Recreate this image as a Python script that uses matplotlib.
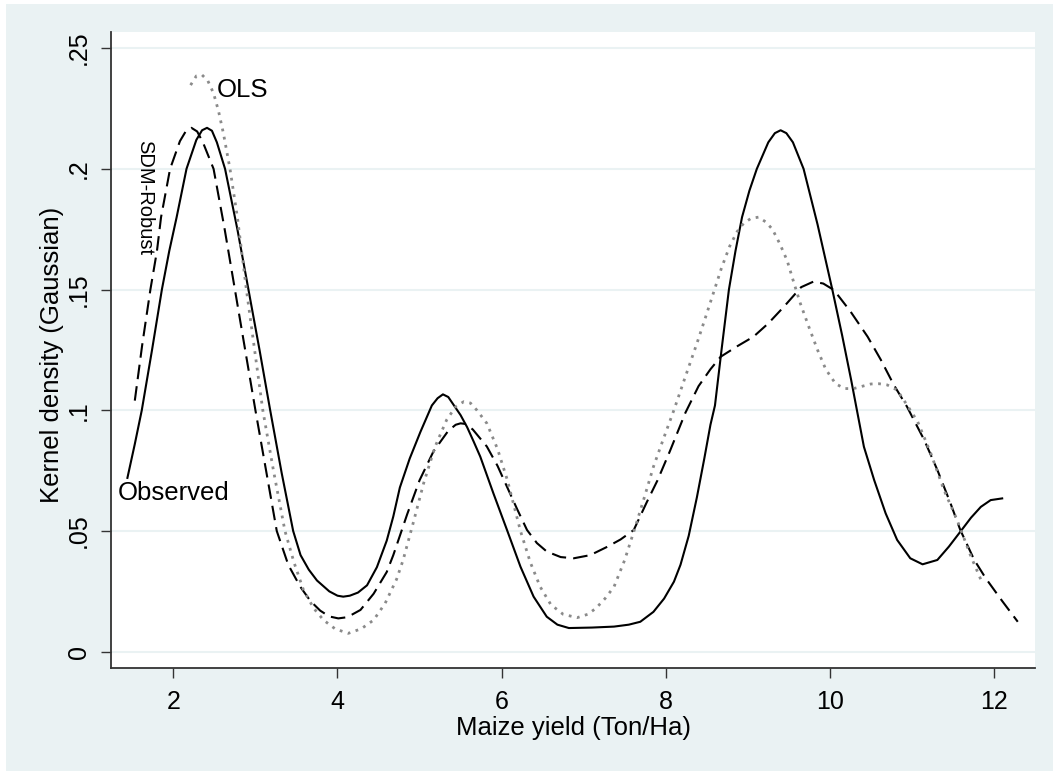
import matplotlib
matplotlib.use("Agg")
import matplotlib.pyplot as plt
from matplotlib.patches import Rectangle

# ---------------- data ----------------
obs_x = [1.44, 1.53, 1.615, 1.74, 1.86, 1.95, 2.04, 2.16, 2.28, 2.35, 2.41, 2.47, 2.53, 2.63,
         2.78, 2.915, 3.05, 3.18, 3.32, 3.46, 3.55, 3.65, 3.75, 3.90, 4.00, 4.07, 4.15, 4.25,
         4.36, 4.48, 4.60, 4.68, 4.76, 4.88, 5.01, 5.15, 5.22, 5.285, 5.35, 5.42, 5.50, 5.58,
         5.66, 5.74, 5.90, 6.066, 6.23, 6.39, 6.55, 6.68, 6.82, 7.10, 7.37, 7.55, 7.69, 7.85,
         7.98, 8.10, 8.18, 8.28, 8.38, 8.47, 8.545, 8.60, 8.68, 8.77, 8.85, 8.93, 9.02, 9.11,
         9.25, 9.33, 9.40, 9.47, 9.55, 9.68, 9.85, 10.03, 10.15, 10.26, 10.33, 10.415, 10.54,
         10.68, 10.82, 10.98, 11.13, 11.31, 11.45, 11.59, 11.72, 11.84, 11.96, 12.10]
obs_y = [0.072, 0.086, 0.100, 0.125, 0.150, 0.166, 0.180, 0.200, 0.212, 0.2160, 0.217, 0.2158, 0.211, 0.200,
         0.175, 0.150, 0.125, 0.100, 0.074, 0.050, 0.040, 0.034, 0.0295, 0.025, 0.0232, 0.0228, 0.0232, 0.0245,
         0.0275, 0.035, 0.046, 0.056, 0.068, 0.080, 0.091, 0.102, 0.105, 0.1066, 0.1055, 0.102, 0.098, 0.093,
         0.087, 0.0808, 0.0656, 0.0504, 0.0352, 0.0228, 0.0145, 0.0112, 0.0098, 0.0100, 0.0104, 0.0112, 0.0124, 0.0165,
         0.022, 0.029, 0.036, 0.048, 0.064, 0.080, 0.094, 0.102, 0.125, 0.150, 0.166, 0.180, 0.191, 0.200,
         0.211, 0.2148, 0.216, 0.2148, 0.211, 0.200, 0.177, 0.150, 0.131, 0.1125, 0.100, 0.0849, 0.0711,
         0.0573, 0.0463, 0.0387, 0.0362, 0.038, 0.0435, 0.0497, 0.0555, 0.060, 0.0628, 0.0635]

sdm_x = [1.53, 1.62, 1.72, 1.80, 1.85, 1.96, 2.08, 2.15, 2.22, 2.29, 2.36, 2.49, 2.62, 2.75,
         2.875, 3.00, 3.13, 3.26, 3.40, 3.545, 3.67, 3.79, 3.90, 4.01, 4.12, 4.28, 4.44, 4.60,
         4.68, 4.76, 4.85, 5.00, 5.17, 5.35, 5.44, 5.50, 5.57, 5.65, 5.82, 5.95, 6.07, 6.19,
         6.31, 6.43, 6.55, 6.72, 6.88, 7.08, 7.29, 7.45, 7.61, 7.77, 7.90, 8.05, 8.24, 8.40,
         8.545, 8.67, 8.87, 9.07, 9.25, 9.44, 9.65, 9.80, 9.92, 10.05, 10.25, 10.46, 10.62,
         10.78, 10.94, 11.15, 11.31, 11.47, 11.59, 11.76, 11.90, 12.10, 12.29]
sdm_y = [0.104, 0.127, 0.150, 0.166, 0.180, 0.200, 0.2115, 0.2155, 0.217, 0.2155, 0.211, 0.200, 0.176, 0.150,
         0.125, 0.100, 0.075, 0.050, 0.036, 0.027, 0.021, 0.0170, 0.0146, 0.0138, 0.0143, 0.0173, 0.024, 0.033,
         0.040, 0.048, 0.057, 0.071, 0.083, 0.0915, 0.0940, 0.0946, 0.0943, 0.092, 0.085, 0.077, 0.068, 0.059,
         0.0504, 0.045, 0.0415, 0.0392, 0.0387, 0.040, 0.0435, 0.0465, 0.0504, 0.062, 0.071, 0.083, 0.099, 0.110,
         0.117, 0.1222, 0.1265, 0.1305, 0.136, 0.1429, 0.151, 0.1533, 0.1525, 0.1498, 0.141, 0.1305, 0.121,
         0.1105, 0.1015, 0.0877, 0.0753, 0.0615, 0.0504, 0.038, 0.0304, 0.021, 0.0124]

ols_x = [2.21, 2.28, 2.35, 2.42, 2.49, 2.55, 2.61, 2.69, 2.78, 2.89, 2.99, 3.09, 3.22, 3.36,
         3.47, 3.585, 3.71, 3.83, 3.97, 4.13, 4.29, 4.44, 4.58, 4.72, 4.80, 4.92, 5.05, 5.19,
         5.33, 5.44, 5.54, 5.62, 5.70, 5.82, 5.95, 6.07, 6.23, 6.35, 6.47, 6.60, 6.75, 6.92,
         7.05, 7.15, 7.26, 7.37, 7.50, 7.63, 7.74, 7.85, 7.97, 8.10, 8.24, 8.38, 8.48, 8.585,
         8.68, 8.78, 8.87, 8.95, 9.04, 9.13, 9.22, 9.30, 9.39, 9.48, 9.56, 9.64, 9.75, 9.85,
         9.95, 10.07, 10.18, 10.29, 10.40, 10.50, 10.60, 10.70, 10.82, 10.94, 11.07, 11.23,
         11.39, 11.55, 11.72, 11.86]
ols_y = [0.2347, 0.2385, 0.2389, 0.2365, 0.2313, 0.224, 0.2147, 0.200, 0.180, 0.150, 0.125, 0.100, 0.075, 0.050,
         0.037, 0.0256, 0.018, 0.0131, 0.0095, 0.0076, 0.0095, 0.0131, 0.020, 0.030, 0.038, 0.053, 0.0698, 0.085,
         0.096, 0.1015, 0.1036, 0.1030, 0.100, 0.0946, 0.084, 0.0711, 0.050, 0.037, 0.0269, 0.0195, 0.0155, 0.0141,
         0.0155, 0.018, 0.022, 0.0269, 0.038, 0.0518, 0.064, 0.0766, 0.088, 0.1001, 0.114, 0.1277, 0.138, 0.149,
         0.159, 0.168, 0.174, 0.1775, 0.1795, 0.180, 0.178, 0.175, 0.169, 0.162, 0.153, 0.1443, 0.134, 0.125,
         0.117, 0.111, 0.109, 0.109, 0.110, 0.1109, 0.111, 0.1105, 0.1084, 0.1022, 0.0953, 0.0822,
         0.067, 0.0546, 0.0394, 0.0283]

x_ticks = [2, 4, 6, 8, 10, 12]
x_tick_labels = ["2", "4", "6", "8", "10", "12"]
y_ticks = [0, 0.05, 0.10, 0.15, 0.20, 0.25]
y_tick_labels = ["0", ".05", ".1", ".15", ".2", ".25"]

x_title = "Maize yield (Ton/Ha)"
y_title = "Kernel density (Gaussian)"
series_labels = ["Observed", "SDM-Robust", "OLS"]

# ---------------- figure ----------------
BG = "#EAF2F3"
plt.rcParams["font.family"] = ["Liberation Sans", "DejaVu Sans"]

W, H = 1053, 771
fig = plt.figure(figsize=(W / 100, H / 100), dpi=100, facecolor="white")
fig.patches.append(Rectangle((6 / W, 0), 1 - 6 / W, 1 - 4 / H, transform=fig.transFigure,
                             facecolor=BG, edgecolor="none", zorder=-10))

ax = fig.add_axes([111 / W, 1 - 668 / H, (1035 - 111) / W, (668 - 32) / H])
ax.set_facecolor("white")
ax.set_xlim(1.24, 12.5)
ax.set_ylim(-0.00675, 0.2567)

for s in ["top", "right"]:
    ax.spines[s].set_visible(False)
for s in ["left", "bottom"]:
    ax.spines[s].set_color("#333333")
    ax.spines[s].set_linewidth(1.3)

ax.set_yticks(y_ticks)
ax.set_yticklabels(y_tick_labels)
ax.set_xticks(x_ticks)
ax.set_xticklabels(x_tick_labels)
ax.tick_params(axis="both", direction="out", length=7.5, width=1.0, color="#333333",
               labelsize=18, labelcolor="black")
ax.tick_params(axis="x", pad=8)
ax.tick_params(axis="y", pad=7)
for lab in ax.get_yticklabels():
    lab.set_rotation(90)
    lab.set_va("center")
    lab.set_ha("right")

ax.yaxis.grid(True, color=BG, linewidth=1.5)
ax.set_axisbelow(True)

ax.plot(obs_x, obs_y, color="black", linewidth=1.5, solid_joinstyle="round")
ax.plot(sdm_x, sdm_y, color="black", linewidth=1.5, dashes=(7, 3.4))
ax.plot(ols_x, ols_y, color="#8a8a8a", linewidth=2.0, dashes=(1.0, 2.0))

# curve labels
ax.text(1.317, 0.0628, series_labels[0], fontsize=18.5, ha="left", va="baseline")
ax.text(1.655, 0.1882, series_labels[1], fontsize=14.5, ha="center", va="center", rotation=270)
ax.text(2.528, 0.2299, series_labels[2], fontsize=18.5, ha="left", va="baseline")

# axis titles
fig.text(573 / W, 1 - 735 / H, x_title, fontsize=18.5, ha="center", va="baseline")
fig.text(59.5 / W, 1 - 355 / H, y_title, fontsize=18.5, ha="center", va="baseline",
         rotation=90, rotation_mode="anchor")

fig.savefig("out.png", dpi=100, facecolor="white")
